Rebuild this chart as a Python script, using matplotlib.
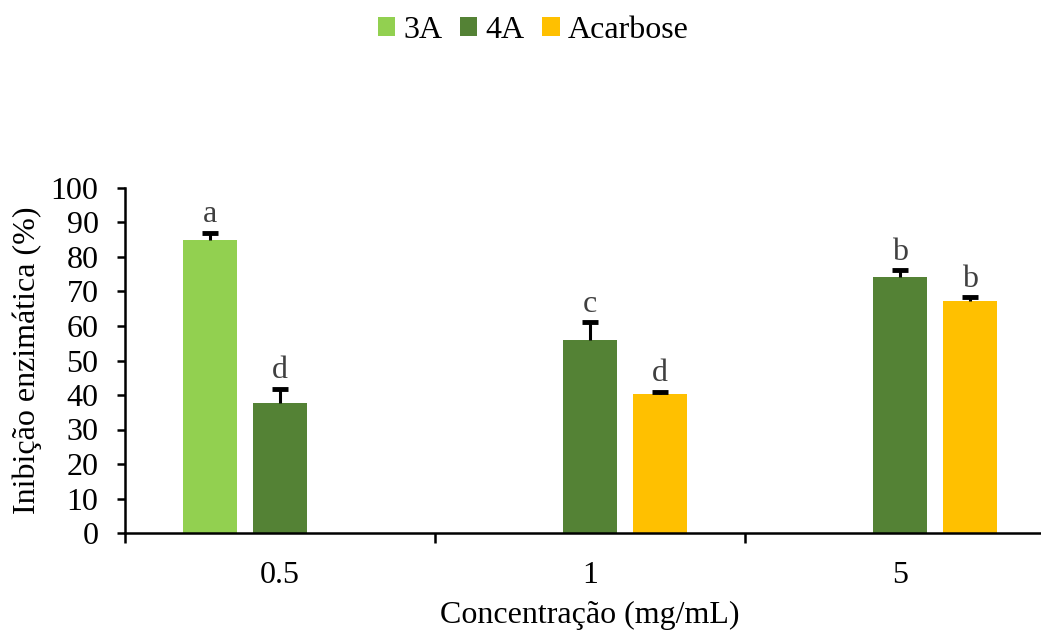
import numpy as np
import matplotlib
matplotlib.use("Agg")
import matplotlib.pyplot as plt

plt.rcParams['font.family'] = ['Liberation Serif', 'DejaVu Serif']

categories = ["0.5", "1", "5"]
series_names = ["3A", "4A", "Acarbose"]
values_3A = [85.0, np.nan, np.nan]
values_4A = [37.6, 55.9, 74.1]
values_acarbose = [np.nan, 40.2, 67.2]
err_3A = [2.0, np.nan, np.nan]
err_4A = [4.2, 5.2, 2.0]
err_acarbose = [np.nan, 0.8, 1.2]
letters_3A = ["a", "", ""]
letters_4A = ["d", "c", "b"]
letters_acarbose = ["", "d", "b"]
colors = ["#92D050", "#548235", "#FFC000"]

FS = 23

fig = plt.figure(figsize=(10.41, 6.30), dpi=100)
ax = fig.add_axes([125/1041, 97/630, 930/1041, 345/630])

x = np.arange(len(categories))
width = 0.177
offsets = [-0.226, 0.0, 0.226]
all_vals = [values_3A, values_4A, values_acarbose]
all_errs = [err_3A, err_4A, err_acarbose]
all_letters = [letters_3A, letters_4A, letters_acarbose]

for i, (vals, errs, lets) in enumerate(zip(all_vals, all_errs, all_letters)):
    xs = x + offsets[i]
    v = np.array(vals, dtype=float)
    e = np.array(errs, dtype=float)
    ax.bar(xs, v, width, color=colors[i], label=series_names[i], zorder=2)
    _, caps, _ = ax.errorbar(xs, v, yerr=[np.zeros_like(e), e], fmt='none', ecolor='black',
                             elinewidth=2.2, capsize=6, capthick=3.5, zorder=3)
    if len(caps) == 2:
        caps[0].set_visible(False)
    for xi, vi, ei, li in zip(xs, v, e, lets):
        if li and not np.isnan(vi):
            ax.text(xi, vi + ei + 3.0, li, ha='center', va='baseline',
                    fontsize=FS, color='#404040')

ax.set_xlim(-0.5, 2.5)
ax.set_ylim(0, 100)
ax.set_yticks(np.arange(0, 101, 10))
ax.tick_params(axis='y', direction='out', length=6, width=1.8, labelsize=FS, pad=13)

ax.set_xticks([-0.5, 0.5, 1.5])
ax.set_xticklabels([])
ax.tick_params(axis='x', which='major', direction='out', length=7, width=1.8)
ax.set_xticks(x, minor=True)
ax.set_xticklabels(categories, minor=True)
ax.tick_params(axis='x', which='minor', length=0, labelsize=FS, pad=20)

for s in ['top', 'right']:
    ax.spines[s].set_visible(False)
for s in ['left', 'bottom']:
    ax.spines[s].set_linewidth(1.8)

ax.set_ylabel("Inibição enzimática (%)", fontsize=FS, labelpad=6)
ax.set_xlabel("Concentração (mg/mL)", fontsize=FS, labelpad=8)

fig.legend(loc='upper center', bbox_to_anchor=(0.512, 1.0), ncol=3, frameon=False,
           fontsize=FS, handlelength=0.55, handleheight=0.55, handletextpad=0.25,
           columnspacing=0.55, borderaxespad=0.1)

fig.savefig("out.png", dpi=100)
